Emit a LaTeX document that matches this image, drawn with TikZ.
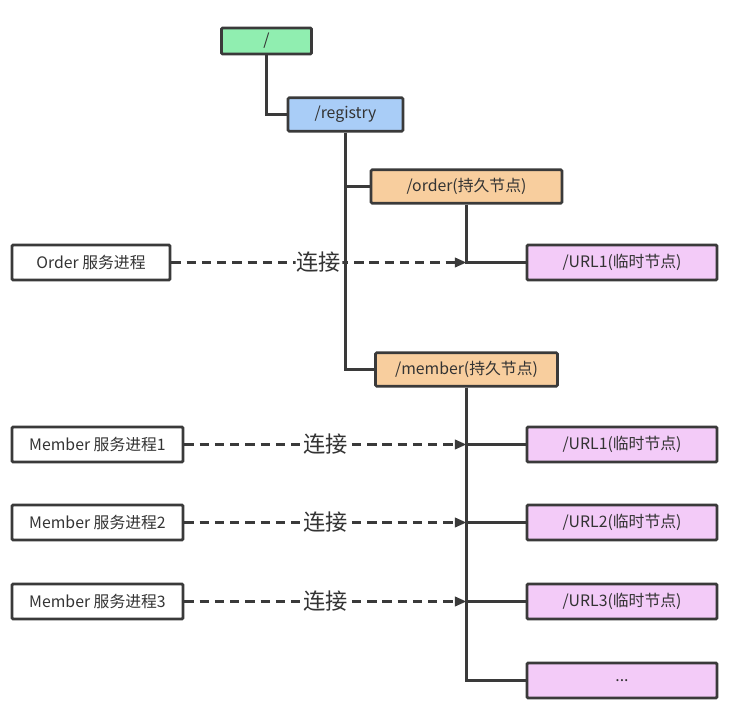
\documentclass[tikz,border=0pt]{standalone}
\usepackage{fontspec}
\setmainfont{Noto Sans CJK SC}
\usetikzlibrary{arrows.meta}

\definecolor{rootgreen}{HTML}{90EEB0}
\definecolor{regblue}{HTML}{A9CDF7}
\definecolor{persorange}{HTML}{F8CE9E}
\definecolor{temppink}{HTML}{F3CBF8}
\definecolor{linegray}{HTML}{3A3A3A}

\begin{document}
\begin{tikzpicture}
  [x=0.03cm,y=-0.03cm,
   every node/.style={draw=linegray,line width=2.4pt,rounded corners=1pt,font=\fontsize{13.5}{15}\selectfont,text=black!80,inner sep=0pt},
   zk/.style={minimum height=1cm},
   proc/.style={fill=white,minimum height=1.05cm},
   conn/.style={dashed,dash pattern=on 8pt off 5pt,line width=2.4pt,draw=linegray,-{Triangle[length=10pt,width=8pt]}},
   tree/.style={line width=2.4pt,draw=linegray},
   lbl/.style={draw=none,fill=white,font=\fontsize{19}{21}\selectfont,inner sep=1pt}]

  \useasboundingbox (0,0) rectangle (729,710);

  \node[zk,fill=rootgreen,minimum width=2.7cm,minimum height=0.78cm] (root) at (266.5,41) {/};
  \node[zk,fill=regblue,minimum width=3.45cm] (reg) at (345.5,114.5) {/registry};
  \node[zk,fill=persorange,minimum width=5.73cm] (order) at (466.5,186.5) {/order(持久节点)};
  \node[zk,fill=persorange,minimum width=5.46cm] (member) at (466.5,369.5) {/member(持久节点)};

  \node[zk,fill=temppink,minimum width=5.7cm,minimum height=1.05cm] (u0) at (622,262.5) {/URL1(临时节点)};
  \node[zk,fill=temppink,minimum width=5.7cm,minimum height=1.05cm] (u1) at (622,444.5) {/URL1(临时节点)};
  \node[zk,fill=temppink,minimum width=5.7cm,minimum height=1.05cm] (u2) at (622,522.5) {/URL2(临时节点)};
  \node[zk,fill=temppink,minimum width=5.7cm,minimum height=1.05cm] (u3) at (622,601.5) {/URL3(临时节点)};
  \node[zk,fill=temppink,minimum width=5.7cm,minimum height=1.05cm] (u4) at (622,680.5) {...};

  \node[proc,minimum width=4.74cm] (p0) at (91,262.5) {Order 服务进程};
  \node[proc,minimum width=5.13cm] (p1) at (97.5,444.5) {Member 服务进程1};
  \node[proc,minimum width=5.13cm] (p2) at (97.5,522.5) {Member 服务进程2};
  \node[proc,minimum width=5.13cm] (p3) at (97.5,601.5) {Member 服务进程3};

  % connections from the service processes
  \coordinate (j0) at (466.5,262.5);
  \coordinate (j1) at (466.5,444.5);
  \coordinate (j2) at (466.5,522.5);
  \coordinate (j3) at (466.5,601.5);

  \foreach \from/\to in {p0/j0,p1/j1,p2/j2,p3/j3}
    \draw[conn] (\from) -- (\to) node[lbl,pos=0.5] {连接};

  % the znode tree
  \foreach \from/\to in {root/reg,reg/order,reg/member,order/u0,member/u1,member/u2,member/u3,member/u4}
    \draw[tree] (\from) |- (\to);

\end{tikzpicture}
\end{document}
